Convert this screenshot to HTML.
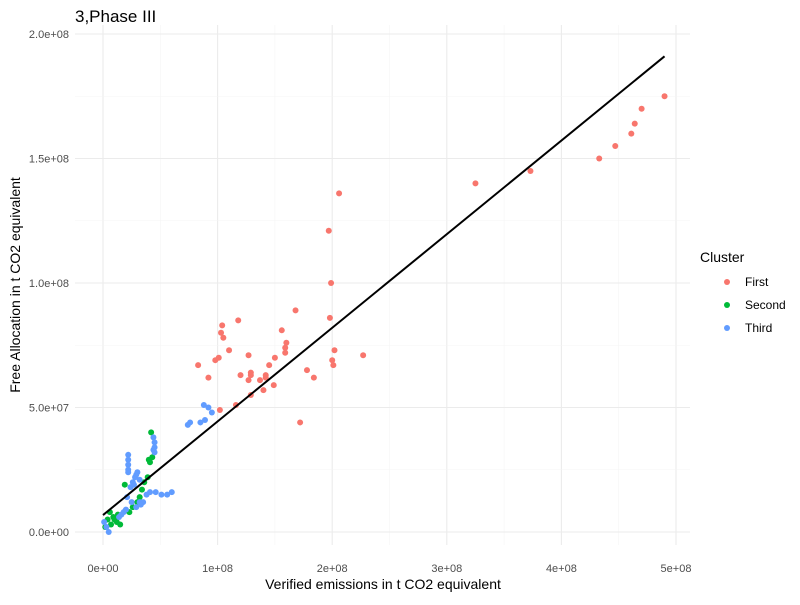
<!DOCTYPE html>
<html><head><meta charset="utf-8"><style>
body{margin:0;background:#fff;font-family:"Liberation Sans",Arial,sans-serif}
svg text{font-family:"Liberation Sans",Arial,sans-serif}
</style></head><body>
<svg id="chart" width="800" height="600">
<text x="75" y="22" font-size="17" fill="#000">3,Phase III</text>
<g id="grid"></g><g id="axes"></g><g id="pts"></g><g id="fit"></g>
<text x="383" y="589" font-size="14" text-anchor="middle" fill="#000">Verified emissions in  t CO2 equivalent</text>
<text transform="translate(20,285) rotate(-90)" font-size="14" text-anchor="middle" fill="#000">Free Allocation in t CO2 equivalent</text>
<g>
<text x="700" y="262" font-size="14" fill="#000">Cluster</text>
<g id="leg"></g></g>
</svg>
<script>
// values in millions of t CO2
const xTicks=[0,100,200,300,400,500];
const xTickLabels=["0e+00","1e+08","2e+08","3e+08","4e+08","5e+08"];
const yTicks=[0,50,100,150,200];
const yTickLabels=["0.0e+00","5.0e+07","1.0e+08","1.5e+08","2.0e+08"];
const clusters=["First","Second","Third"];
const colors=["#F8766D","#00BA38","#619CFF"];
const firstX=[206,197,199,168,198,118,104,103,105,156,160,159,159,110,202,227,127,200,101,98,150,201,145,83,178,129,129,142,120,184,92,127,142,137,140,149,129,116,102,172,325,373,433,447,461,464,470,490];
const firstY=[136,121,100,89,86,85,83,80,78,81,76,74,72,73,73,71,71,69,70,69,70,67,67,67,65,64,63,63,63,62,62,61,62,61,57,59,55,51,49,44,140,145,150,155,160,164,170,175];
const secondX=[42,40,43,41,19,34,39,23,6,9,12,15,30,2,4,7,10,13,26,32,36];
const secondY=[40,29,30,28,19,17,22,8,8,6,4,3,12,2,5,3,5,7,10,14,20];
const thirdX=[74,88,92,95,85,89,76,44,45,45,44,45,22,22,22,22,22,24,26,28,30,32,27,29,41,46,51,56,60,21,25,29,32,1,3,5,18,20,14,16,35,38,33];
const thirdY=[43,51,50,48,44,45,44,38,36,34,33,32,31,29,27,25,24,18,20,22,24,21,19,23,16,16,15,15,16,14,12,10,12,4,2,0,8,9,6,7,12,15,11];
const fitIntercept=[6.8];
const fitSlope=[0.376];
const fitRange=[0,490];
const X=v=>103+v*1.146, Y=v=>532-v*2.49;
const ns="http://www.w3.org/2000/svg";
function mk(t,a,p){const e=document.createElementNS(ns,t);for(const k in a)e.setAttribute(k,a[k]);p.appendChild(e);return e;}
const grid=document.getElementById('grid'),axes=document.getElementById('axes');
for(let i=0;i<xTicks.length;i++){
 const x=X(xTicks[i]);
 const g=mk('line',{x1:x,x2:x,y1:25,y2:545,stroke:'#ebebeb','stroke-width':1.1},grid);
 
 
 if(i<xTicks.length-1){const xm=X((xTicks[i]+xTicks[i+1])/2);const m=mk('line',{x1:xm,x2:xm,y1:25,y2:545,stroke:'#f5f5f5','stroke-width':0.6},grid);
 
 }
 const t=mk('text',{x:x,y:572,'font-size':11,'text-anchor':'middle',fill:'#4d4d4d'},axes);t.textContent=xTickLabels[i];
 
 
}
for(let i=0;i<yTicks.length;i++){
 const y=Y(yTicks[i]);
 const g=mk('line',{x1:75,x2:690,y1:y,y2:y,stroke:'#ebebeb','stroke-width':1.1},grid);
 
 
 if(i<yTicks.length-1){const ym=Y((yTicks[i]+yTicks[i+1])/2);const m=mk('line',{x1:75,x2:690,y1:ym,y2:ym,stroke:'#f5f5f5','stroke-width':0.6},grid);
 
 }
 const t=mk('text',{x:69,y:y+4,'font-size':11,'text-anchor':'end',fill:'#4d4d4d'},axes);t.textContent=yTickLabels[i];
 
 
}
const pts=document.getElementById('pts');
const series=[[firstX,firstY],[secondX,secondY],[thirdX,thirdY]];
series.forEach((s,k)=>{s[0].forEach((xv,i)=>{
 const c=mk('circle',{cx:X(xv),cy:Y(s[1][i]),r:3,fill:colors[k]},pts);
 
 
});});
const fit=mk('line',{x1:X(fitRange[0]),y1:Y(fitIntercept[0]+fitSlope[0]*fitRange[0]),x2:X(fitRange[1]),y2:Y(fitIntercept[0]+fitSlope[0]*fitRange[1]),stroke:'#000','stroke-width':2},document.getElementById('fit'));


const leg=document.getElementById('leg');
clusters.forEach((c,i)=>{
 const y=282+i*23;
 const d=mk('circle',{cx:727,cy:y,r:3,fill:colors[i]},leg);
 
 
 const t=mk('text',{x:745,y:y+4,'font-size':12,fill:'#000'},leg);t.textContent=c;
 
 
});
</script>
</body></html>
